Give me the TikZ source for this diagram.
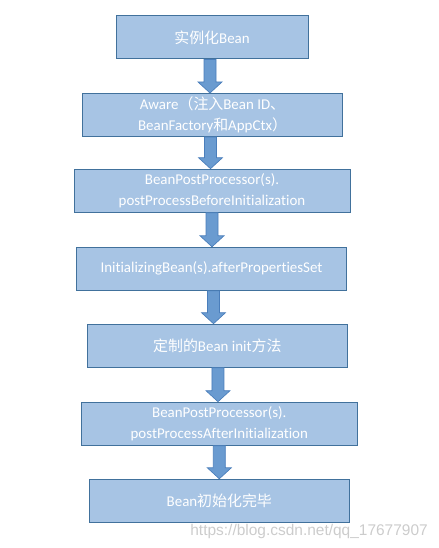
\documentclass[tikz,border=0pt]{standalone}
\usepackage{fontspec}
\setmainfont{Carlito}[Ligatures=NoCommon]
\newfontfamily\cjk{Noto Sans CJK SC}
\newfontfamily\wmfont{Liberation Sans}
\usetikzlibrary{calc}
\definecolor{boxfill}{HTML}{A7C4E4}
\definecolor{boxline}{HTML}{41719C}
\definecolor{arrfill}{HTML}{6A9BD0}
\definecolor{arrline}{HTML}{4A7EBB}

\begin{document}
\begin{tikzpicture}[x=0.75pt, y=-0.75pt,
    box/.style={draw=boxline, line width=0.75pt, fill=boxfill, text=white,
        minimum height=32.25pt, inner sep=0pt, align=center,
        font=\fontsize{11.2}{15.75}\selectfont},
    flow/.style={draw=arrline, line width=0.5pt, fill=arrfill,
        to path={let \p1=(\tikztostart), \p2=(\tikztotarget) in
            (\x1-4.5pt,\y1) -- (\x1+4.5pt,\y1) -- (\x1+4.5pt,\y2+8.25pt)
            -- (\x1+9pt,\y2+8.25pt) -- (\x1,\y2) -- (\x1-9pt,\y2+8.25pt)
            -- (\x1-4.5pt,\y2+8.25pt) -- cycle}}]
            \useasboundingbox (0,0) rectangle (438,548);
            \node[box, minimum width=144pt] (b1) at (212,37.5) {{\cjk 实例化}Bean};
            \node[box, minimum width=195pt] (b2) at (212.5,115) {Aware{\cjk （注入}Bean ID{\cjk 、}\\BeanFactory{\cjk 和}AppCtx{\cjk ）}};
            \node[box, minimum width=207pt] (b3) at (212,190.7) {BeanPostProcessor(s).\\postProcessBeforeInitialization};
            \node[box, minimum width=202.5pt] (b4) at (211.5,268.8) {InitializingBean(s).afterPropertiesSet};
            \node[box, minimum width=195pt] (b5) at (217.3,345.7) {{\cjk 定制的}Bean init{\cjk 方法}};
            \node[box, minimum width=207pt] (b6) at (219.3,423.7) {BeanPostProcessor(s).\\postProcessAfterInitialization};
            \node[box, minimum width=195pt] (b7) at (219.3,500.8) {Bean{\cjk 初始化完毕}};
            \foreach \a/\b/\s in {b1/b2/-1.5, b2/b3/-1.5, b3/b4/0, b4/b5/1.5, b5/b6/0.5, b6/b7/0} {
                \draw[flow] ([xshift=\s pt]\a.south) to (\b.north);
            }
            \node[text=black!20, font=\wmfont\fontsize{11.6}{13}\selectfont, anchor=east, inner sep=0pt] (wm) at (428,531) {https://blog.csdn.net/qq\_17677907};
        \end{tikzpicture}
\end{document}
